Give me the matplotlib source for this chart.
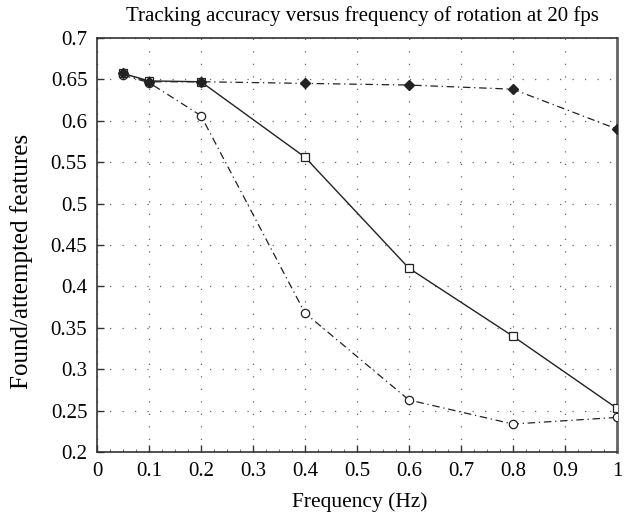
import matplotlib
matplotlib.use("Agg")
import matplotlib.pyplot as plt
from matplotlib.ticker import MultipleLocator

freq = [0.05, 0.1, 0.2, 0.4, 0.6, 0.8, 1.0]
diamond_vals = [0.657, 0.647, 0.647, 0.645, 0.643, 0.638, 0.590]
square_vals = [0.657, 0.648, 0.647, 0.556, 0.422, 0.340, 0.253]
circle_vals = [0.655, 0.646, 0.606, 0.368, 0.263, 0.234, 0.242]

xticks = [0, 0.1, 0.2, 0.3, 0.4, 0.5, 0.6, 0.7, 0.8, 0.9, 1]
xticklabels = ["0", "0.1", "0.2", "0.3", "0.4", "0.5", "0.6", "0.7", "0.8", "0.9", "1"]
yticks = [0.2, 0.25, 0.3, 0.35, 0.4, 0.45, 0.5, 0.55, 0.6, 0.65, 0.7]
yticklabels = ["0.2", "0.25", "0.3", "0.35", "0.4", "0.45", "0.5", "0.55", "0.6", "0.65", "0.7"]

plt.rcParams['font.family'] = ['Liberation Serif', 'DejaVu Serif']

fig = plt.figure(figsize=(6.34, 5.18), dpi=100)
ax = fig.add_axes([0.153, 0.127, 0.820, 0.800])

ax.plot(freq, circle_vals, color='#222222', linestyle='-.', linewidth=0.9,
        marker='o', markersize=6, markerfacecolor='white', markeredgecolor='#222222',
        markeredgewidth=0.9, dashes=(6, 3, 1, 3), zorder=3)
ax.plot(freq, square_vals, color='#222222', linestyle='-', linewidth=1.0,
        marker='s', markersize=5.5, markerfacecolor='white', markeredgecolor='#222222',
        markeredgewidth=0.9, zorder=4)
ax.plot(freq, diamond_vals, color='#222222', linestyle='-.', linewidth=0.9,
        marker='D', markersize=5.5, markerfacecolor='#222222', markeredgecolor='#222222',
        dashes=(6, 3, 1, 3), zorder=5)

ax.set_xlim(0, 1)
ax.set_ylim(0.2, 0.7)
ax.set_xticks(xticks)
ax.set_xticklabels(xticklabels)
ax.set_yticks(yticks)
ax.set_yticklabels(yticklabels)
ax.xaxis.set_minor_locator(MultipleLocator(0.025))
ax.tick_params(which='major', direction='in', length=5, width=1.0, labelsize=15, color='#333333')
ax.tick_params(which='minor', direction='in', length=2, width=0.6, color='#555555')
ax.tick_params(axis='x', pad=7)
ax.tick_params(axis='y', pad=7)

ax.grid(True, which='major', linestyle=(0, (1, 9)), color='#666666', linewidth=0.9)

for side in ['left', 'bottom', 'top']:
    ax.spines[side].set_color('#333333')
    ax.spines[side].set_linewidth(1.2)
ax.spines['right'].set_color('#666666')
ax.spines['right'].set_linewidth(2.0)

ax.set_title("Tracking accuracy versus frequency of rotation at 20 fps", fontsize=15, pad=12, x=0.51)
ax.set_xlabel("Frequency (Hz)", fontsize=15.5)
ax.set_ylabel("Found/attempted features", fontsize=18)
ax.xaxis.set_label_coords(0.506, -0.097)
ax.yaxis.set_label_coords(-0.123, 0.46)

fig.savefig("out.png", dpi=100)
